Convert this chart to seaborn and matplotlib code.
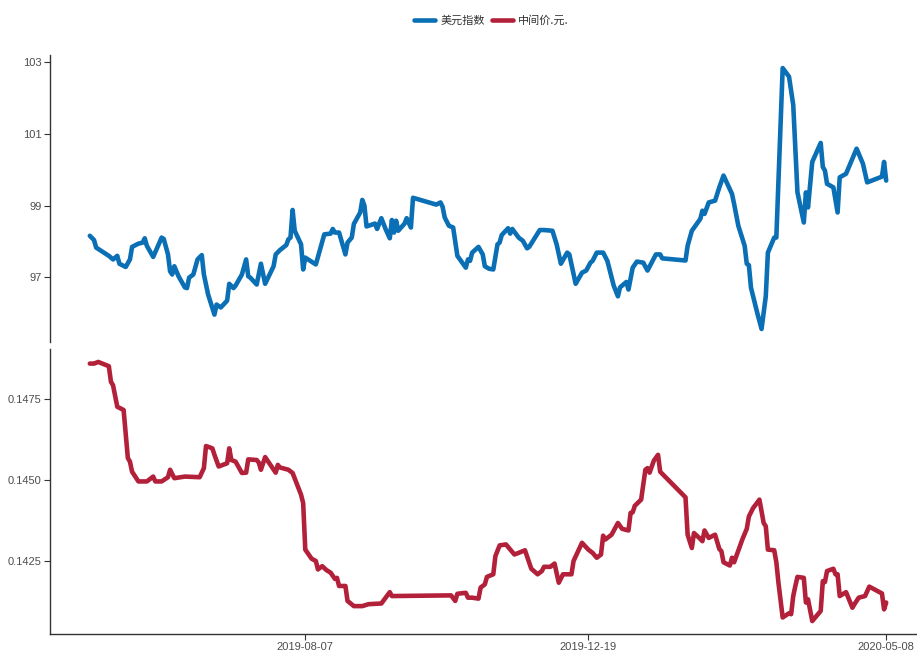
import matplotlib
matplotlib.use("Agg")
import matplotlib.pyplot as plt
import matplotlib.dates as mdates
import pandas as pd
import seaborn as sns

# 美元指数 (US dollar index)
usd_dates = [
    "2019-04-27", "2019-04-29", "2019-04-30", "2019-05-06", "2019-05-08", "2019-05-10",
    "2019-05-11", "2019-05-14", "2019-05-16", "2019-05-17", "2019-05-20", "2019-05-22",
    "2019-05-23", "2019-05-24", "2019-05-27", "2019-05-31", "2019-06-01", "2019-06-03",
    "2019-06-04", "2019-06-05", "2019-06-06", "2019-06-08", "2019-06-11", "2019-06-12",
    "2019-06-13", "2019-06-15", "2019-06-17", "2019-06-19", "2019-06-20", "2019-06-22",
    "2019-06-25", "2019-06-26", "2019-06-28", "2019-07-01", "2019-07-02", "2019-07-04",
    "2019-07-05", "2019-07-08", "2019-07-10", "2019-07-11", "2019-07-12", "2019-07-15",
    "2019-07-17", "2019-07-19", "2019-07-23", "2019-07-24", "2019-07-26", "2019-07-29",
    "2019-07-30", "2019-07-31", "2019-08-01", "2019-08-02", "2019-08-05", "2019-08-06",
    "2019-08-07", "2019-08-12", "2019-08-16", "2019-08-19", "2019-08-20", "2019-08-21",
    "2019-08-23", "2019-08-26", "2019-08-27", "2019-08-29", "2019-08-30", "2019-09-02",
    "2019-09-03", "2019-09-04", "2019-09-05", "2019-09-09", "2019-09-10", "2019-09-12",
    "2019-09-14", "2019-09-16", "2019-09-17", "2019-09-18", "2019-09-19", "2019-09-20",
    "2019-09-23", "2019-09-24", "2019-09-26", "2019-09-27", "2019-10-08", "2019-10-10",
    "2019-10-11", "2019-10-12", "2019-10-14", "2019-10-16", "2019-10-18", "2019-10-22",
    "2019-10-23", "2019-10-24", "2019-10-25", "2019-10-28", "2019-10-30", "2019-10-31",
    "2019-11-02", "2019-11-04", "2019-11-06", "2019-11-07", "2019-11-08", "2019-11-11",
    "2019-11-12", "2019-11-13", "2019-11-16", "2019-11-18", "2019-11-20", "2019-11-21",
    "2019-11-26", "2019-11-28", "2019-12-02", "2019-12-04", "2019-12-06", "2019-12-09",
    "2019-12-10", "2019-12-13", "2019-12-16", "2019-12-18", "2019-12-20", "2019-12-21",
    "2019-12-23", "2019-12-26", "2019-12-28", "2019-12-31", "2020-01-02", "2020-01-03",
    "2020-01-06", "2020-01-07", "2020-01-09", "2020-01-11", "2020-01-14", "2020-01-16",
    "2020-01-20", "2020-01-22", "2020-01-23", "2020-02-03", "2020-02-04", "2020-02-06",
    "2020-02-10", "2020-02-11", "2020-02-12", "2020-02-14", "2020-02-17", "2020-02-19",
    "2020-02-21", "2020-02-25", "2020-02-26", "2020-02-28", "2020-03-02", "2020-03-03",
    "2020-03-04", "2020-03-05", "2020-03-08", "2020-03-10", "2020-03-12", "2020-03-13",
    "2020-03-16", "2020-03-17", "2020-03-20", "2020-03-23", "2020-03-25", "2020-03-27",
    "2020-03-30", "2020-03-31", "2020-04-01", "2020-04-03", "2020-04-07", "2020-04-08",
    "2020-04-09", "2020-04-10", "2020-04-13", "2020-04-15", "2020-04-16", "2020-04-19",
    "2020-04-24", "2020-04-27", "2020-04-29", "2020-05-06", "2020-05-07", "2020-05-08",
]
usd_values = [
    98.16, 98.04, 97.83, 97.60, 97.50, 97.60,
    97.38, 97.29, 97.50, 97.85, 97.94, 97.97,
    98.09, 97.88, 97.57, 98.11, 98.07, 97.64,
    97.17, 97.08, 97.31, 97.03, 96.72, 96.70,
    96.99, 97.08, 97.50, 97.62, 97.08, 96.52,
    95.96, 96.24, 96.16, 96.35, 96.82, 96.70,
    96.77, 97.08, 97.50, 97.03, 96.99, 96.80,
    97.38, 96.82, 97.31, 97.64, 97.76, 97.90,
    98.06, 98.11, 98.88, 98.30, 97.92, 97.22,
    97.55, 97.36, 98.20, 98.22, 98.35, 98.25,
    98.25, 97.64, 97.97, 98.11, 98.49, 98.81,
    99.16, 99.00, 98.42, 98.50, 98.35, 98.65,
    98.35, 98.09, 98.60, 98.25, 98.58, 98.30,
    98.50, 98.65, 98.39, 99.22, 99.03, 99.09,
    98.97, 98.67, 98.44, 98.39, 97.60, 97.27,
    97.50, 97.46, 97.69, 97.85, 97.64, 97.31,
    97.24, 97.22, 97.92, 97.97, 98.18, 98.37,
    98.22, 98.35, 98.11, 98.02, 97.81, 97.85,
    98.32, 98.32, 98.30, 97.92, 97.38, 97.69,
    97.64, 96.82, 97.13, 97.19, 97.41, 97.46,
    97.69, 97.69, 97.46, 96.77, 96.47, 96.72,
    96.87, 96.66, 97.27, 97.44, 97.41, 97.19,
    97.64, 97.64, 97.53, 97.47, 97.88, 98.30,
    98.63, 98.86, 98.77, 99.09, 99.14, 99.51,
    99.84, 99.33, 99.05, 98.44, 97.88, 97.38,
    97.34, 96.71, 96.00, 95.56, 96.47, 97.69,
    98.11, 98.11, 102.84, 102.60, 101.81, 99.37,
    98.53, 99.37, 98.95, 100.22, 100.75, 100.08,
    99.98, 99.61, 99.51, 98.81, 99.79, 99.89,
    100.59, 100.17, 99.65, 99.81, 100.22, 99.70,
]

# 中间价.元. (central parity, USD per CNY)
cny_dates = [
    "2019-04-27", "2019-04-29", "2019-05-01", "2019-05-06", "2019-05-07", "2019-05-08",
    "2019-05-10", "2019-05-13", "2019-05-15", "2019-05-16", "2019-05-17", "2019-05-20",
    "2019-05-24", "2019-05-27", "2019-05-28", "2019-05-31", "2019-06-03", "2019-06-04",
    "2019-06-06", "2019-06-11", "2019-06-18", "2019-06-20", "2019-06-21", "2019-06-24",
    "2019-06-25", "2019-06-27", "2019-07-01", "2019-07-02", "2019-07-03", "2019-07-05",
    "2019-07-08", "2019-07-10", "2019-07-11", "2019-07-15", "2019-07-16", "2019-07-17",
    "2019-07-19", "2019-07-21", "2019-07-24", "2019-07-25", "2019-07-26", "2019-07-30",
    "2019-08-01", "2019-08-05", "2019-08-06", "2019-08-07", "2019-08-10", "2019-08-12",
    "2019-08-13", "2019-08-15", "2019-08-17", "2019-08-19", "2019-08-21", "2019-08-22",
    "2019-08-23", "2019-08-26", "2019-08-27", "2019-08-30", "2019-09-03", "2019-09-06",
    "2019-09-12", "2019-09-16", "2019-09-17", "2019-10-15", "2019-10-17", "2019-10-18",
    "2019-10-22", "2019-10-23", "2019-10-25", "2019-10-28", "2019-10-29", "2019-10-31",
    "2019-11-01", "2019-11-04", "2019-11-05", "2019-11-07", "2019-11-10", "2019-11-14",
    "2019-11-16", "2019-11-19", "2019-11-22", "2019-11-25", "2019-11-27", "2019-11-28",
    "2019-12-01", "2019-12-03", "2019-12-05", "2019-12-07", "2019-12-11", "2019-12-12",
    "2019-12-16", "2019-12-19", "2019-12-21", "2019-12-23", "2019-12-25", "2019-12-26",
    "2019-12-27", "2019-12-30", "2020-01-02", "2020-01-04", "2020-01-07", "2020-01-08",
    "2020-01-09", "2020-01-10", "2020-01-13", "2020-01-15", "2020-01-16", "2020-01-17",
    "2020-01-19", "2020-01-21", "2020-01-22", "2020-02-03", "2020-02-04", "2020-02-06",
    "2020-02-07", "2020-02-10", "2020-02-11", "2020-02-12", "2020-02-14", "2020-02-17",
    "2020-02-19", "2020-02-20", "2020-02-21", "2020-02-24", "2020-02-25", "2020-02-26",
    "2020-03-01", "2020-03-03", "2020-03-04", "2020-03-06", "2020-03-09", "2020-03-11",
    "2020-03-12", "2020-03-13", "2020-03-16", "2020-03-17", "2020-03-18", "2020-03-20",
    "2020-03-23", "2020-03-24", "2020-03-25", "2020-03-26", "2020-03-27", "2020-03-30",
    "2020-03-31", "2020-04-01", "2020-04-03", "2020-04-07", "2020-04-08", "2020-04-09",
    "2020-04-10", "2020-04-13", "2020-04-14", "2020-04-15", "2020-04-16", "2020-04-19",
    "2020-04-22", "2020-04-23", "2020-04-25", "2020-04-28", "2020-04-30", "2020-05-06",
    "2020-05-07", "2020-05-08",
]
cny_values = [
    0.14858, 0.14858, 0.14863, 0.14850, 0.14802, 0.14791,
    0.14725, 0.14715, 0.14567, 0.14556, 0.14525, 0.14495,
    0.14495, 0.14510, 0.14495, 0.14495, 0.14508, 0.14531,
    0.14505, 0.14510, 0.14508, 0.14536, 0.14604, 0.14597,
    0.14577, 0.14541, 0.14551, 0.14597, 0.14561, 0.14556,
    0.14521, 0.14522, 0.14563, 0.14561, 0.14553, 0.14531,
    0.14570, 0.14551, 0.14522, 0.14546, 0.14538, 0.14531,
    0.14521, 0.14454, 0.14428, 0.14285, 0.14257, 0.14250,
    0.14224, 0.14234, 0.14222, 0.14214, 0.14195, 0.14198,
    0.14173, 0.14173, 0.14127, 0.14111, 0.14111, 0.14117,
    0.14119, 0.14154, 0.14142, 0.14144, 0.14127, 0.14149,
    0.14152, 0.14137, 0.14137, 0.14134, 0.14168, 0.14178,
    0.14201, 0.14209, 0.14265, 0.14298, 0.14301, 0.14270,
    0.14275, 0.14283, 0.14226, 0.14209, 0.14219, 0.14232,
    0.14232, 0.14242, 0.14183, 0.14209, 0.14209, 0.14250,
    0.14306, 0.14285, 0.14275, 0.14260, 0.14270, 0.14328,
    0.14316, 0.14331, 0.14367, 0.14349, 0.14344, 0.14398,
    0.14400, 0.14420, 0.14439, 0.14531, 0.14536, 0.14522,
    0.14559, 0.14577, 0.14525, 0.14446, 0.14331, 0.14290,
    0.14336, 0.14318, 0.14311, 0.14344, 0.14321, 0.14331,
    0.14287, 0.14280, 0.14246, 0.14236, 0.14260, 0.14246,
    0.14318, 0.14349, 0.14387, 0.14413, 0.14439, 0.14367,
    0.14357, 0.14285, 0.14283, 0.14246, 0.14183, 0.14076,
    0.14089, 0.14086, 0.14142, 0.14173, 0.14201, 0.14198,
    0.14122, 0.14132, 0.14065, 0.14096, 0.14188, 0.14185,
    0.14219, 0.14226, 0.14209, 0.14209, 0.14142, 0.14154,
    0.14106, 0.14117, 0.14137, 0.14142, 0.14171, 0.14150,
    0.14101, 0.14122,
]

series_names = ["美元指数", "中间价.元."]
x_tick_dates = ["2019-08-07", "2019-12-19", "2020-05-08"]
usd_ticks = [97, 99, 101, 103]
cny_ticks = [0.1425, 0.1450, 0.1475]

blue = "#0a6fb4"
red = "#b3203a"

sns.set_theme(style="ticks")
plt.rcParams["font.family"] = ["Liberation Sans", "DejaVu Sans"]

usd = pd.DataFrame({"date": pd.to_datetime(usd_dates), "value": usd_values})
cny = pd.DataFrame({"date": pd.to_datetime(cny_dates), "value": cny_values})

W, H = 917, 651
fig = plt.figure(figsize=(W / 100, H / 100), dpi=100)
ax_top = fig.add_axes([50 / W, 1 - 342 / H, 876 / W, 287 / H])
ax_bot = fig.add_axes([50 / W, 1 - 634 / H, 876 / W, 285 / H], sharex=ax_top)

sns.lineplot(data=usd, x="date", y="value", ax=ax_top, color=blue, lw=3.3,
             label=series_names[0], legend=False)
sns.lineplot(data=cny, x="date", y="value", ax=ax_bot, color=red, lw=3.3,
             label=series_names[1], legend=False)

for ax in (ax_top, ax_bot):
    ax.margins(x=0.05, y=0.05)
    ax.set_xlabel("")
    ax.set_ylabel("")
    for side in ("top", "right"):
        ax.spines[side].set_visible(False)
    for side in ("left", "bottom"):
        ax.spines[side].set_color("#333333")
        ax.spines[side].set_linewidth(1.0)
    ax.tick_params(length=4, width=0.8, color="#333333", labelcolor="#4d4d4d",
                   labelsize=8, pad=2)

ax_top.spines["bottom"].set_visible(False)
ax_top.tick_params(axis="x", bottom=False, labelbottom=False)

ax_top.set_yticks(usd_ticks)
ax_top.set_yticklabels([str(t) for t in usd_ticks])
ax_bot.set_yticks(cny_ticks)
ax_bot.set_yticklabels([f"{t:.4f}" for t in cny_ticks])

ax_bot.set_xticks(pd.to_datetime(x_tick_dates))
ax_bot.xaxis.set_major_formatter(mdates.DateFormatter("%Y-%m-%d"))

handles = ax_top.get_lines()[:1] + ax_bot.get_lines()[:1]
fig.legend(handles, series_names, loc="center", bbox_to_anchor=(0.536, 0.968),
           ncol=2, frameon=False, handlelength=1.9, handletextpad=0.5,
           columnspacing=0.6, prop={"family": ["Noto Sans CJK SC", "DejaVu Sans"], "size": 8},
           labelcolor="#333333")

fig.savefig("out.png", dpi=100)
